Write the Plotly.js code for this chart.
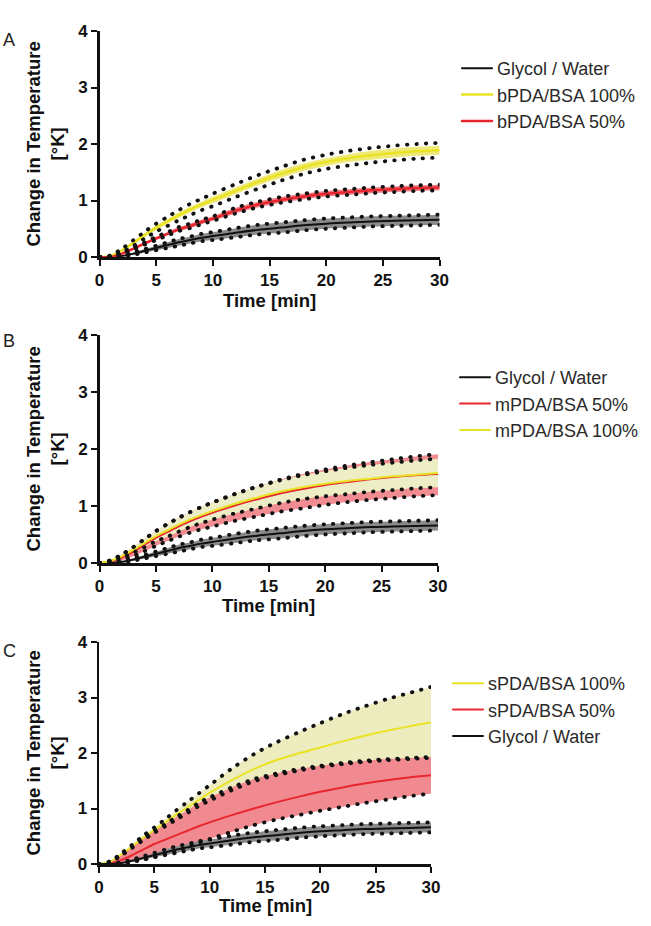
<!DOCTYPE html>
<html>
<head>
<meta charset="utf-8">
<script src="https://cdn.plot.ly/plotly-3.0.1.min.js"></script>
<style>
  html, body { margin: 0; padding: 0; background: #fff; }
  #chart { width: 651px; height: 926px; }
  /* round caps turn the dash pattern of the envelopes into round dots */
  #chart path.js-line { stroke-linecap: round; }
</style>
</head>
<body>
<div id="chart"></div>
<script>
// Sampling times (min)
const minutes = [0, 1, 2, 3, 4, 5, 6, 7, 8, 9, 10, 12, 14, 16, 18, 20, 22, 24, 26, 28, 30];
const xTicks = [0, 5, 10, 15, 20, 25, 30];
const yTicks = [0, 1, 2, 3, 4];

// Glycol / Water control: mean and spread envelope (K)
const glycolMean = [0, 0, 0.02, 0.06, 0.11, 0.16, 0.21, 0.26, 0.30, 0.34, 0.37, 0.43, 0.48, 0.52, 0.56, 0.59, 0.61, 0.63, 0.64, 0.65, 0.66];
const glycolHigh = [0, 0.01, 0.03, 0.08, 0.14, 0.20, 0.26, 0.32, 0.36, 0.41, 0.44, 0.51, 0.57, 0.61, 0.65, 0.68, 0.70, 0.72, 0.73, 0.74, 0.75];
const glycolLow  = [0, 0, 0.01, 0.04, 0.08, 0.12, 0.16, 0.20, 0.24, 0.28, 0.30, 0.35, 0.40, 0.43, 0.47, 0.50, 0.52, 0.54, 0.55, 0.56, 0.57];

// bPDA/BSA 100%
const bFullMean    = [0, 0.02, 0.12, 0.25, 0.39, 0.52, 0.63, 0.74, 0.84, 0.93, 1.01, 1.17, 1.33, 1.47, 1.59, 1.68, 1.75, 1.80, 1.84, 1.87, 1.89];
const bFullHigh    = [0, 0.03, 0.15, 0.30, 0.45, 0.59, 0.71, 0.83, 0.94, 1.03, 1.12, 1.29, 1.45, 1.59, 1.72, 1.81, 1.88, 1.93, 1.97, 2.00, 2.02];
const bFullLow     = [0, 0.01, 0.09, 0.20, 0.33, 0.45, 0.55, 0.65, 0.74, 0.83, 0.90, 1.06, 1.21, 1.35, 1.47, 1.56, 1.62, 1.67, 1.71, 1.74, 1.76];
const bFullSemHigh = [0, 0.03, 0.14, 0.28, 0.42, 0.56, 0.67, 0.79, 0.89, 0.98, 1.07, 1.23, 1.39, 1.54, 1.66, 1.75, 1.82, 1.88, 1.92, 1.95, 1.97];
const bFullSemLow  = [0, 0.01, 0.10, 0.22, 0.36, 0.48, 0.59, 0.69, 0.79, 0.88, 0.95, 1.11, 1.27, 1.40, 1.52, 1.61, 1.68, 1.72, 1.76, 1.79, 1.81];

// bPDA/BSA 50%
const bHalfMean = [0, 0, 0.06, 0.15, 0.24, 0.33, 0.41, 0.49, 0.55, 0.62, 0.68, 0.82, 0.93, 1.01, 1.07, 1.12, 1.15, 1.18, 1.20, 1.22, 1.23];
const bHalfHigh = [0, 0, 0.07, 0.17, 0.26, 0.36, 0.44, 0.53, 0.59, 0.66, 0.72, 0.87, 0.98, 1.06, 1.12, 1.17, 1.20, 1.23, 1.25, 1.27, 1.28];
const bHalfLow  = [0, 0, 0.05, 0.13, 0.22, 0.30, 0.38, 0.46, 0.51, 0.58, 0.64, 0.77, 0.88, 0.96, 1.02, 1.07, 1.10, 1.13, 1.15, 1.17, 1.18];

// mPDA/BSA 50%
const mHalfMean = [0, 0.03, 0.10, 0.20, 0.32, 0.44, 0.54, 0.64, 0.73, 0.81, 0.88, 1.01, 1.12, 1.22, 1.30, 1.37, 1.42, 1.47, 1.51, 1.54, 1.56];
const mHalfHigh = [0, 0.05, 0.15, 0.28, 0.42, 0.56, 0.68, 0.79, 0.89, 0.98, 1.06, 1.21, 1.34, 1.46, 1.56, 1.64, 1.71, 1.77, 1.82, 1.87, 1.91];
const mHalfLow  = [0, 0.01, 0.05, 0.12, 0.21, 0.30, 0.38, 0.46, 0.53, 0.59, 0.64, 0.74, 0.82, 0.90, 0.96, 1.02, 1.07, 1.11, 1.14, 1.17, 1.19];

// mPDA/BSA 100%
const mFullMean = [0, 0.04, 0.12, 0.23, 0.35, 0.47, 0.57, 0.67, 0.76, 0.84, 0.91, 1.04, 1.15, 1.25, 1.33, 1.39, 1.44, 1.48, 1.52, 1.55, 1.58];
const mFullHigh = [0, 0.05, 0.15, 0.28, 0.42, 0.56, 0.68, 0.79, 0.89, 0.98, 1.06, 1.21, 1.34, 1.45, 1.54, 1.61, 1.67, 1.72, 1.76, 1.80, 1.83];
const mFullLow  = [0, 0.03, 0.09, 0.18, 0.28, 0.38, 0.46, 0.55, 0.63, 0.70, 0.76, 0.87, 0.96, 1.05, 1.12, 1.17, 1.21, 1.25, 1.28, 1.31, 1.33];

// sPDA/BSA 100%
const sFullMean = [0, 0.04, 0.17, 0.32, 0.47, 0.61, 0.75, 0.89, 1.02, 1.15, 1.28, 1.51, 1.71, 1.87, 1.99, 2.10, 2.21, 2.31, 2.40, 2.48, 2.55];
const sFullHigh = [0, 0.05, 0.19, 0.35, 0.51, 0.66, 0.81, 0.97, 1.12, 1.27, 1.42, 1.72, 1.98, 2.19, 2.37, 2.54, 2.70, 2.84, 2.97, 3.08, 3.19];
const sFullLow  = [0, 0.03, 0.15, 0.29, 0.43, 0.56, 0.68, 0.80, 0.92, 1.04, 1.14, 1.33, 1.49, 1.60, 1.68, 1.75, 1.80, 1.84, 1.87, 1.89, 1.91];

// sPDA/BSA 50%
const sHalfMean = [0, 0.01, 0.07, 0.16, 0.26, 0.36, 0.44, 0.52, 0.60, 0.68, 0.75, 0.88, 1.00, 1.11, 1.21, 1.30, 1.38, 1.45, 1.51, 1.56, 1.60];
const sHalfHigh = [0, 0.04, 0.17, 0.32, 0.47, 0.60, 0.72, 0.85, 0.97, 1.10, 1.20, 1.38, 1.53, 1.63, 1.71, 1.77, 1.82, 1.86, 1.89, 1.91, 1.93];
const sHalfLow  = [0, 0, 0.01, 0.04, 0.08, 0.13, 0.18, 0.24, 0.31, 0.38, 0.45, 0.58, 0.70, 0.80, 0.88, 0.96, 1.03, 1.10, 1.16, 1.22, 1.27];

// ---------- styling ----------
const FONT = 'Liberation Sans, Arial, Helvetica, sans-serif';
const INK = '#111111';
const YELLOW = '#e9e324';
const RED = '#e8262f';
const W = 651, H = 926;
const px = v => v / W;
const py = v => 1 - v / H;

const panels = [
  {
    letter: 'A', xa: 'x', ya: 'y', legend: 'legend',
    xDom: [99.5, 439.5], yDom: [257, 31], letterY: 40, xTitleY: 300,
    series: [
      { name: 'Glycol / Water', mean: glycolMean, hi: glycolHigh, lo: glycolLow, color: INK, width: 2, fill: '#8a8a8a' },
      { name: 'bPDA/BSA 100%', mean: bFullMean, hi: bFullHigh, lo: bFullLow, bandHi: bFullSemHigh, bandLo: bFullSemLow, color: YELLOW, width: 2.5, fill: '#efe97a' },
      { name: 'bPDA/BSA 50%', mean: bHalfMean, hi: bHalfHigh, lo: bHalfLow, color: RED, width: 2.5, fill: '#f07e84' }
    ]
  },
  {
    letter: 'B', xa: 'x2', ya: 'y2', legend: 'legend2',
    xDom: [99.5, 438], yDom: [563, 335], letterY: 341, xTitleY: 605,
    series: [
      { name: 'Glycol / Water', mean: glycolMean, hi: glycolHigh, lo: glycolLow, color: INK, width: 2, fill: '#8a8a8a' },
      { name: 'mPDA/BSA 50%', mean: mHalfMean, hi: mHalfHigh, lo: mHalfLow, color: RED, width: 2, fill: '#f18c92' },
      { name: 'mPDA/BSA 100%', mean: mFullMean, hi: mFullHigh, lo: mFullLow, color: YELLOW, width: 2, fill: '#eeeec6' }
    ]
  },
  {
    letter: 'C', xa: 'x3', ya: 'y3', legend: 'legend3',
    xDom: [99, 431], yDom: [864, 642], letterY: 651, xTitleY: 905,
    series: [
      { name: 'sPDA/BSA 100%', mean: sFullMean, hi: sFullHigh, lo: sFullLow, color: YELLOW, width: 2, fill: '#ececbf' },
      { name: 'sPDA/BSA 50%', mean: sHalfMean, hi: sHalfHigh, lo: sHalfLow, color: RED, width: 2, fill: '#f08a90' },
      { name: 'Glycol / Water', mean: glycolMean, hi: glycolHigh, lo: glycolLow, color: INK, width: 2, fill: '#8a8a8a' }
    ]
  }
];

const legendPos = {
  legend:  { x: 457, y: 50 },
  legend2: { x: 455, y: 359 },
  legend3: { x: 448, y: 665 }
};

const traces = [];
panels.forEach(p => {
  const common = { x: minutes, xaxis: p.xa, yaxis: p.ya, mode: 'lines', hoverinfo: 'skip', showlegend: false };
  // shaded bands
  p.series.forEach(s => {
    traces.push(Object.assign({}, common, { y: s.bandLo || s.lo, line: { width: 0, color: s.fill, shape: 'spline', smoothing: 0.8 } }));
    traces.push(Object.assign({}, common, { y: s.bandHi || s.hi, fill: 'tonexty', fillcolor: s.fill, line: { width: 0, color: s.fill, shape: 'spline', smoothing: 0.8 } }));
  });
  // mean curves (these carry the legend entries)
  p.series.forEach(s => {
    traces.push(Object.assign({}, common, {
      y: s.mean, name: s.name, showlegend: true, legend: p.legend,
      line: { width: s.width, color: s.color, shape: 'spline', smoothing: 0.8 }
    }));
  });
  // dotted spread envelopes
  p.series.forEach(s => {
    [s.hi, s.lo].forEach(arr => {
      traces.push(Object.assign({}, common, {
        y: arr, line: { width: 3.8, color: INK, dash: '0.5px,9px', shape: 'spline', smoothing: 0.8 }
      }));
    });
  });
});

const layout = {
  width: W, height: H,
  margin: { l: 0, r: 0, t: 0, b: 0 },
  paper_bgcolor: '#ffffff', plot_bgcolor: 'rgba(0,0,0,0)',
  font: { family: FONT, color: INK },
  showlegend: true,
  annotations: [],
  hovermode: false
};

panels.forEach((p, i) => {
  const sfx = i === 0 ? '' : String(i + 1);
  layout['xaxis' + sfx] = {
    domain: [px(p.xDom[0]), px(p.xDom[1])], anchor: p.ya, range: [0, 30],
    tickmode: 'array', tickvals: xTicks, ticks: 'outside', ticklen: 6, tickwidth: 2, tickcolor: INK,
    showline: true, linewidth: 2.5, linecolor: INK, showgrid: false, zeroline: false,
    tickfont: { family: FONT, size: 17, color: INK, weight: 'bold' }, fixedrange: true
  };
  layout['yaxis' + sfx] = {
    domain: [py(p.yDom[0]), py(p.yDom[1])], anchor: p.xa, range: [0, 4],
    tickmode: 'array', tickvals: yTicks, ticks: 'outside', ticklen: 6, tickwidth: 2, tickcolor: INK,
    showline: true, linewidth: 2.5, linecolor: INK, showgrid: false, zeroline: false,
    tickfont: { family: FONT, size: 17, color: INK, weight: 'bold' }, fixedrange: true
  };
  const lp = legendPos[p.legend];
  layout[p.legend] = {
    x: px(lp.x), xanchor: 'left', y: py(lp.y), yanchor: 'top', traceorder: 'normal',
    bgcolor: 'rgba(0,0,0,0)', borderwidth: 0, itemwidth: 30, tracegroupgap: 0,
    font: { family: FONT, size: 18, color: '#2a2a2a' }
  };
  const midY = (p.yDom[0] + p.yDom[1]) / 2;
  const midX = (p.xDom[0] + p.xDom[1]) / 2;
  layout.annotations.push(
    { text: p.letter, xref: 'paper', yref: 'paper', x: px(9), y: py(p.letterY), xanchor: 'center', yanchor: 'middle',
      showarrow: false, font: { family: FONT, size: 18, color: '#222' } },
    { text: '<b>Change in Temperature</b><br><b>[°K]</b>', xref: 'paper', yref: 'paper', x: px(44.5), y: py(midY),
      xanchor: 'center', yanchor: 'middle', textangle: -90, showarrow: false,
      font: { family: FONT, size: 18.5, color: INK } },
    { text: '<b>Time [min]</b>', xref: 'paper', yref: 'paper', x: px(midX), y: py(p.xTitleY),
      xanchor: 'center', yanchor: 'middle', showarrow: false, font: { family: FONT, size: 18.5, color: INK } }
  );
});

Plotly.newPlot('chart', traces, layout, { staticPlot: true, displayModeBar: false });
</script>
</body>
</html>
